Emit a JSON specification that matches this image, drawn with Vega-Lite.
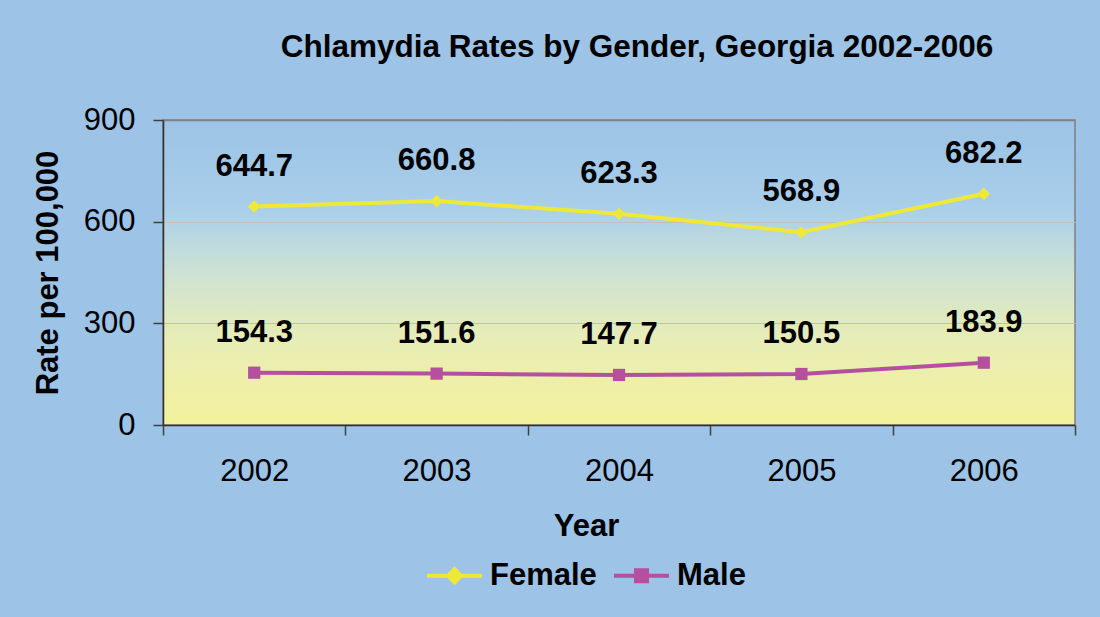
{
  "$schema": "https://vega.github.io/schema/vega-lite/v6.json",
  "width": 912,
  "height": 305,
  "autosize": {"type": "none"},
  "padding": {"left": 163, "top": 120, "right": 25, "bottom": 192},
  "background": "#9DC3E6",
  "title": {
    "text": "Chlamydia Rates by Gender, Georgia 2002-2006",
    "font": "Liberation Sans",
    "fontSize": 31.5,
    "fontWeight": "bold",
    "color": "#000000",
    "anchor": "middle",
    "frame": "group",
    "dx": 18,
    "offset": 16,
    "baseline": "alphabetic"
  },
  "data": {
    "values": [
      {"year": "2002", "gender": "Female", "rate": 644.7},
      {"year": "2003", "gender": "Female", "rate": 660.8},
      {"year": "2004", "gender": "Female", "rate": 623.3},
      {"year": "2005", "gender": "Female", "rate": 568.9},
      {"year": "2006", "gender": "Female", "rate": 682.2},
      {"year": "2002", "gender": "Male", "rate": 154.3},
      {"year": "2003", "gender": "Male", "rate": 151.6},
      {"year": "2004", "gender": "Male", "rate": 147.7},
      {"year": "2005", "gender": "Male", "rate": 150.5},
      {"year": "2006", "gender": "Male", "rate": 183.9}
    ]
  },
  "encoding": {
    "x": {
      "field": "year",
      "type": "ordinal",
      "scale": {"paddingInner": 0, "paddingOuter": 0},
      "axis": {
        "title": "Year",
        "titleFont": "Liberation Sans",
        "titleFontSize": 31,
        "titleFontWeight": "bold",
        "titleColor": "#000000",
        "titleX": 423,
        "titleY": 110,
        "titleAlign": "center",
        "titleBaseline": "alphabetic",
        "labelAngle": 0,
        "labelFont": "Liberation Sans",
        "labelFontSize": 31,
        "labelColor": "#000000",
        "labelPadding": 21,
        "tickSize": 10,
        "tickBand": "extent",
        "tickColor": "#404040",
        "tickWidth": 1.5,
        "domainColor": "#303030",
        "domainWidth": 1.5,
        "grid": false
      }
    },
    "y": {
      "field": "rate",
      "type": "quantitative",
      "scale": {"domain": [0, 900], "nice": false},
      "axis": {
        "title": "Rate per 100,000",
        "titleFont": "Liberation Sans",
        "titleFontSize": 31,
        "titleFontWeight": "bold",
        "titleColor": "#000000",
        "titleAngle": -90,
        "titleX": -106,
        "titleY": 152.5,
        "titleAlign": "center",
        "titleBaseline": "alphabetic",
        "values": [0, 300, 600, 900],
        "labelFont": "Liberation Sans",
        "labelFontSize": 31,
        "labelColor": "#000000",
        "labelPadding": 18,
        "tickSize": 10,
        "tickColor": "#404040",
        "tickWidth": 1.5,
        "domainColor": "#303030",
        "domainWidth": 1.5,
        "grid": true,
        "gridColor": {"condition": {"test": "datum.value === 900", "value": "#808080"}, "value": "#BFBFBF"},
        "gridWidth": {"condition": {"test": "datum.value === 900", "value": 1.5}, "value": 1}
      }
    },
    "color": {
      "field": "gender",
      "type": "nominal",
      "scale": {"domain": ["Female", "Male"], "range": ["#EEE838", "#B5509F"]},
      "legend": {
        "orient": "none",
        "legendX": 262,
        "legendY": 426,
        "direction": "horizontal",
        "title": null,
        "padding": 0,
        "labelFont": "Liberation Sans",
        "labelFontSize": 31,
        "labelFontWeight": "bold",
        "labelColor": "#000000",
        "labelOffset": 6,
        "columnPadding": 9,
        "symbolSize": 3025,
        "symbolStrokeWidth": 4,
        "symbolOpacity": 1,
        "symbolType": "M-1,0L1,0M0,-0.24L0.24,0L0,0.24L-0.24,0Z",
        "encode": {
          "symbols": {
            "update": {
              "shape": {"signal": "datum.value === 'Female' ? 'M-1,0L1,0M0,-0.24L0.24,0L0,0.24L-0.24,0Z' : 'M-1,0L1,0M-0.2,-0.2L0.2,-0.2L0.2,0.2L-0.2,0.2Z'"},
              "fill": {"signal": "scale('color', datum.value)"},
              "stroke": {"signal": "scale('color', datum.value)"},
              "strokeWidth": {"value": 4},
              "opacity": {"value": 1}
            }
          }
        }
      }
    }
  },
  "layer": [
    {"mark": {"type": "line", "strokeWidth": 4}},
    {
      "transform": [{"filter": "datum.gender === 'Female'"}],
      "mark": {"type": "point", "filled": true, "opacity": 1, "size": 160, "shape": "diamond"}
    },
    {
      "transform": [{"filter": "datum.gender === 'Male'"}],
      "mark": {"type": "point", "filled": true, "opacity": 1, "size": 150, "shape": "square"}
    },
    {
      "mark": {
        "type": "text",
        "font": "Liberation Sans",
        "fontSize": 31,
        "fontWeight": "bold",
        "baseline": "alphabetic",
        "align": "center",
        "dy": -31
      },
      "encoding": {
        "text": {"field": "rate", "type": "quantitative", "format": ".1f"},
        "color": {"value": "#000000"}
      }
    }
  ],
  "config": {
    "view": {
      "stroke": "#808080",
      "strokeWidth": 1.5,
      "fill": {
        "gradient": "linear",
        "x1": 0, "y1": 0, "x2": 0, "y2": 1,
        "stops": [
          {"offset": 0, "color": "#9DC3E6"},
          {"offset": 0.28, "color": "#A8CEEA"},
          {"offset": 0.5, "color": "#CDE2D4"},
          {"offset": 0.72, "color": "#E8EDB6"},
          {"offset": 1, "color": "#F3F29C"}
        ]
      }
    }
  }
}
